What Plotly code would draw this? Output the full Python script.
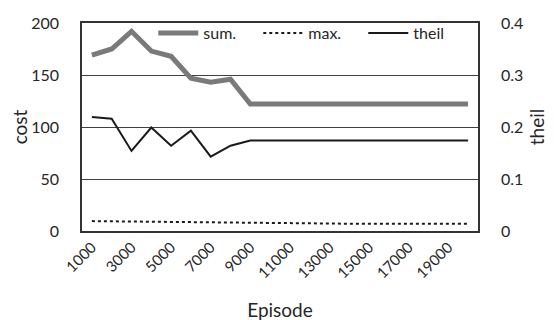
import plotly.graph_objects as go

episodes = [str(v) for v in range(1000, 21000, 1000)]
sum_cost = [169, 175, 192, 173, 168, 147, 143, 146, 122, 122, 122, 122, 122, 122, 122, 122, 122, 122, 122, 122]
max_cost = [9.5, 9.3, 9.2, 9.0, 8.6, 8.3, 8.0, 7.7, 7.3, 7.2, 7.1, 7.0, 7.0, 7.0, 7.0, 7.0, 7.0, 7.0, 7.0, 7.0]
theil = [0.219, 0.216, 0.154, 0.199, 0.164, 0.193, 0.143, 0.164, 0.174, 0.174, 0.174, 0.174, 0.174, 0.174,
         0.174, 0.174, 0.174, 0.174, 0.174, 0.174]
shown_ticks = episodes[::2]

FONT = "Lato, 'Open Sans', sans-serif"
TXT = "#262626"

fig = go.Figure()
fig.add_trace(go.Scatter(x=episodes, y=sum_cost, name="sum.", mode="lines",
                         line=dict(color="#7a7a7a", width=5)))
fig.add_trace(go.Scatter(x=episodes, y=max_cost, name="max.", mode="lines",
                         line=dict(color="#1a1a1a", width=2, dash="dot")))
fig.add_trace(go.Scatter(x=episodes, y=theil, name="theil", mode="lines", yaxis="y2",
                         line=dict(color="#1a1a1a", width=2)))

fig.update_layout(
    width=554, height=320,
    margin=dict(l=74, r=84, t=8, b=97),
    paper_bgcolor="white", plot_bgcolor="white",
    font=dict(family=FONT, size=16, color=TXT),
    showlegend=True,
    legend=dict(orientation="h", x=0.18, y=0.952, xanchor="left", yanchor="middle",
                bgcolor="rgba(0,0,0,0)", font=dict(size=16), itemwidth=40,
                entrywidth=50, entrywidthmode="pixels", tracegroupgap=0),
    xaxis=dict(type="category", tickmode="array", tickvals=shown_ticks, ticktext=shown_ticks,
               range=[-0.5, 19.5], automargin=False,
               tickangle=-45, showgrid=False, showline=True, linecolor="#333", linewidth=1.5,
               mirror=True, ticks="", title=dict(text="Episode", standoff=23),
               tickfont=dict(size=15)),
    yaxis=dict(range=[0, 200], tickvals=[0, 50, 100, 150, 200], showgrid=True, automargin=False,
               gridcolor="#404040", gridwidth=1, showline=True, linecolor="#333", linewidth=1.5,
               ticks="", ticklabelstandoff=18, zeroline=False,
               title=dict(text="cost", standoff=15)),
    yaxis2=dict(range=[0, 0.4], tickvals=[0, 0.1, 0.2, 0.3, 0.4], ticktext=["0", "0.1", "0.2", "0.3", "0.4"],
                overlaying="y", side="right", showgrid=False, showline=True, linecolor="#333",
                linewidth=1.5, ticks="", ticklabelstandoff=18, zeroline=False, automargin=False,
                title=dict(text="theil", standoff=8)),
)

fig.write_html("out.html")
